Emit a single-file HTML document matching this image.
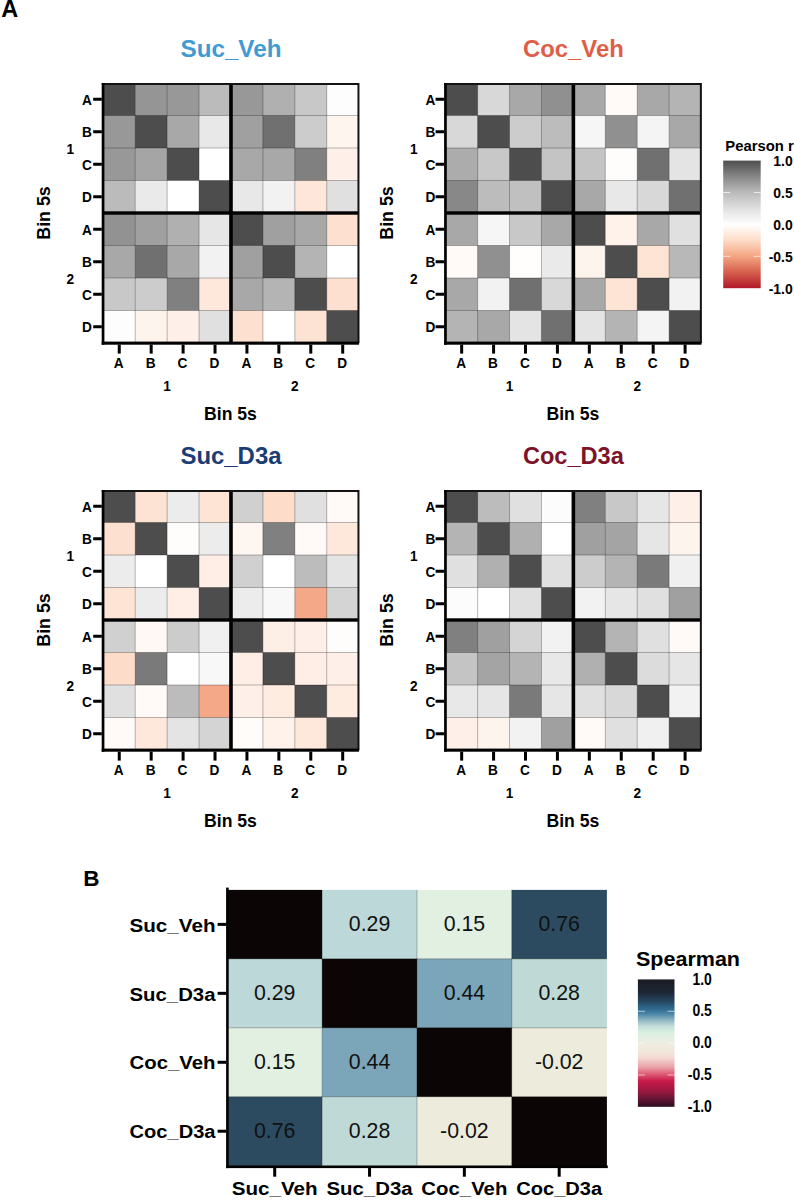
<!DOCTYPE html>
<html><head><meta charset="utf-8"><style>
html,body{margin:0;padding:0;background:#fff;}
body{width:794px;height:1200px;overflow:hidden;}
svg{display:block;font-family:"Liberation Sans", sans-serif;}
</style></head><body>
<svg width="794" height="1200" viewBox="0 0 794 1200">
<rect x="0" y="0" width="794" height="1200" fill="#fff"/>
<text x="1.20" y="16.50" font-size="23.50" font-weight="bold">A</text>
<rect x="103.30" y="83.00" width="32.32" height="32.90" fill="#4d4d4d"/>
<rect x="135.22" y="83.00" width="32.32" height="32.90" fill="#959595"/>
<rect x="167.14" y="83.00" width="32.32" height="32.90" fill="#989898"/>
<rect x="199.06" y="83.00" width="32.32" height="32.90" fill="#bbbbbb"/>
<rect x="230.98" y="83.00" width="32.32" height="32.90" fill="#989898"/>
<rect x="262.90" y="83.00" width="32.32" height="32.90" fill="#b0b0b0"/>
<rect x="294.82" y="83.00" width="32.32" height="32.90" fill="#c8c8c8"/>
<rect x="326.74" y="83.00" width="32.32" height="32.90" fill="#fdfdfd"/>
<rect x="103.30" y="115.50" width="32.32" height="32.90" fill="#989898"/>
<rect x="135.22" y="115.50" width="32.32" height="32.90" fill="#4d4d4d"/>
<rect x="167.14" y="115.50" width="32.32" height="32.90" fill="#a8a8a8"/>
<rect x="199.06" y="115.50" width="32.32" height="32.90" fill="#e8e8e8"/>
<rect x="230.98" y="115.50" width="32.32" height="32.90" fill="#a0a0a0"/>
<rect x="262.90" y="115.50" width="32.32" height="32.90" fill="#707070"/>
<rect x="294.82" y="115.50" width="32.32" height="32.90" fill="#cccccc"/>
<rect x="326.74" y="115.50" width="32.32" height="32.90" fill="#fef5ef"/>
<rect x="103.30" y="148.00" width="32.32" height="32.90" fill="#989898"/>
<rect x="135.22" y="148.00" width="32.32" height="32.90" fill="#a5a5a5"/>
<rect x="167.14" y="148.00" width="32.32" height="32.90" fill="#4d4d4d"/>
<rect x="199.06" y="148.00" width="32.32" height="32.90" fill="#ffffff"/>
<rect x="230.98" y="148.00" width="32.32" height="32.90" fill="#a8a8a8"/>
<rect x="262.90" y="148.00" width="32.32" height="32.90" fill="#a8a8a8"/>
<rect x="294.82" y="148.00" width="32.32" height="32.90" fill="#808080"/>
<rect x="326.74" y="148.00" width="32.32" height="32.90" fill="#fef0e8"/>
<rect x="103.30" y="180.50" width="32.32" height="32.90" fill="#bbbbbb"/>
<rect x="135.22" y="180.50" width="32.32" height="32.90" fill="#eaeaea"/>
<rect x="167.14" y="180.50" width="32.32" height="32.90" fill="#ffffff"/>
<rect x="199.06" y="180.50" width="32.32" height="32.90" fill="#4d4d4d"/>
<rect x="230.98" y="180.50" width="32.32" height="32.90" fill="#e8e8e8"/>
<rect x="262.90" y="180.50" width="32.32" height="32.90" fill="#f2f2f2"/>
<rect x="294.82" y="180.50" width="32.32" height="32.90" fill="#fee6d8"/>
<rect x="326.74" y="180.50" width="32.32" height="32.90" fill="#e0e0e0"/>
<rect x="103.30" y="213.00" width="32.32" height="32.90" fill="#929292"/>
<rect x="135.22" y="213.00" width="32.32" height="32.90" fill="#a0a0a0"/>
<rect x="167.14" y="213.00" width="32.32" height="32.90" fill="#b0b0b0"/>
<rect x="199.06" y="213.00" width="32.32" height="32.90" fill="#e6e6e6"/>
<rect x="230.98" y="213.00" width="32.32" height="32.90" fill="#4d4d4d"/>
<rect x="262.90" y="213.00" width="32.32" height="32.90" fill="#a0a0a0"/>
<rect x="294.82" y="213.00" width="32.32" height="32.90" fill="#a8a8a8"/>
<rect x="326.74" y="213.00" width="32.32" height="32.90" fill="#fde0cf"/>
<rect x="103.30" y="245.50" width="32.32" height="32.90" fill="#a8a8a8"/>
<rect x="135.22" y="245.50" width="32.32" height="32.90" fill="#707070"/>
<rect x="167.14" y="245.50" width="32.32" height="32.90" fill="#a8a8a8"/>
<rect x="199.06" y="245.50" width="32.32" height="32.90" fill="#f2f2f2"/>
<rect x="230.98" y="245.50" width="32.32" height="32.90" fill="#a0a0a0"/>
<rect x="262.90" y="245.50" width="32.32" height="32.90" fill="#4d4d4d"/>
<rect x="294.82" y="245.50" width="32.32" height="32.90" fill="#b4b4b4"/>
<rect x="326.74" y="245.50" width="32.32" height="32.90" fill="#ffffff"/>
<rect x="103.30" y="278.00" width="32.32" height="32.90" fill="#c8c8c8"/>
<rect x="135.22" y="278.00" width="32.32" height="32.90" fill="#cccccc"/>
<rect x="167.14" y="278.00" width="32.32" height="32.90" fill="#808080"/>
<rect x="199.06" y="278.00" width="32.32" height="32.90" fill="#fee8db"/>
<rect x="230.98" y="278.00" width="32.32" height="32.90" fill="#a8a8a8"/>
<rect x="262.90" y="278.00" width="32.32" height="32.90" fill="#b4b4b4"/>
<rect x="294.82" y="278.00" width="32.32" height="32.90" fill="#4d4d4d"/>
<rect x="326.74" y="278.00" width="32.32" height="32.90" fill="#fde0cf"/>
<rect x="103.30" y="310.50" width="32.32" height="32.90" fill="#fdfdfd"/>
<rect x="135.22" y="310.50" width="32.32" height="32.90" fill="#fef4ee"/>
<rect x="167.14" y="310.50" width="32.32" height="32.90" fill="#fef0e8"/>
<rect x="199.06" y="310.50" width="32.32" height="32.90" fill="#e0e0e0"/>
<rect x="230.98" y="310.50" width="32.32" height="32.90" fill="#fde0cf"/>
<rect x="262.90" y="310.50" width="32.32" height="32.90" fill="#ffffff"/>
<rect x="294.82" y="310.50" width="32.32" height="32.90" fill="#fde3d3"/>
<rect x="326.74" y="310.50" width="32.32" height="32.90" fill="#4d4d4d"/>
<line x1="135.22" y1="83.00" x2="135.22" y2="343.00" stroke="#000" stroke-opacity="0.28" stroke-width="1"/>
<line x1="103.30" y1="115.50" x2="358.66" y2="115.50" stroke="#000" stroke-opacity="0.28" stroke-width="1"/>
<line x1="167.14" y1="83.00" x2="167.14" y2="343.00" stroke="#000" stroke-opacity="0.28" stroke-width="1"/>
<line x1="103.30" y1="148.00" x2="358.66" y2="148.00" stroke="#000" stroke-opacity="0.28" stroke-width="1"/>
<line x1="199.06" y1="83.00" x2="199.06" y2="343.00" stroke="#000" stroke-opacity="0.28" stroke-width="1"/>
<line x1="103.30" y1="180.50" x2="358.66" y2="180.50" stroke="#000" stroke-opacity="0.28" stroke-width="1"/>
<line x1="262.90" y1="83.00" x2="262.90" y2="343.00" stroke="#000" stroke-opacity="0.28" stroke-width="1"/>
<line x1="103.30" y1="245.50" x2="358.66" y2="245.50" stroke="#000" stroke-opacity="0.28" stroke-width="1"/>
<line x1="294.82" y1="83.00" x2="294.82" y2="343.00" stroke="#000" stroke-opacity="0.28" stroke-width="1"/>
<line x1="103.30" y1="278.00" x2="358.66" y2="278.00" stroke="#000" stroke-opacity="0.28" stroke-width="1"/>
<line x1="326.74" y1="83.00" x2="326.74" y2="343.00" stroke="#000" stroke-opacity="0.28" stroke-width="1"/>
<line x1="103.30" y1="310.50" x2="358.66" y2="310.50" stroke="#000" stroke-opacity="0.28" stroke-width="1"/>
<rect x="229.18" y="83.00" width="3.6" height="260.00" fill="#000"/>
<rect x="103.30" y="211.30" width="255.36" height="3.4" fill="#000"/>
<rect x="101.80" y="83.00" width="256.86" height="2" fill="#141414"/>
<rect x="357.46" y="83.00" width="2" height="260.00" fill="#141414"/>
<rect x="101.70" y="83.00" width="2.7" height="261.70" fill="#000"/>
<rect x="101.70" y="341.60" width="257.36" height="3.1" fill="#000"/>
<rect x="93.20" y="97.75" width="8.6" height="3" fill="#000"/>
<text transform="translate(91.80,104.85) scale(0.880,1)" font-size="15.50" font-weight="bold" text-anchor="end">A</text>
<rect x="117.76" y="344.60" width="3" height="9" fill="#000"/>
<text transform="translate(118.66,368.40) scale(0.880,1)" font-size="15.50" font-weight="bold" text-anchor="middle">A</text>
<rect x="93.20" y="130.25" width="8.6" height="3" fill="#000"/>
<text transform="translate(91.80,137.35) scale(0.880,1)" font-size="15.50" font-weight="bold" text-anchor="end">B</text>
<rect x="149.68" y="344.60" width="3" height="9" fill="#000"/>
<text transform="translate(150.58,368.40) scale(0.880,1)" font-size="15.50" font-weight="bold" text-anchor="middle">B</text>
<rect x="93.20" y="162.75" width="8.6" height="3" fill="#000"/>
<text transform="translate(91.80,169.85) scale(0.880,1)" font-size="15.50" font-weight="bold" text-anchor="end">C</text>
<rect x="181.60" y="344.60" width="3" height="9" fill="#000"/>
<text transform="translate(182.50,368.40) scale(0.880,1)" font-size="15.50" font-weight="bold" text-anchor="middle">C</text>
<rect x="93.20" y="195.25" width="8.6" height="3" fill="#000"/>
<text transform="translate(91.80,202.35) scale(0.880,1)" font-size="15.50" font-weight="bold" text-anchor="end">D</text>
<rect x="213.52" y="344.60" width="3" height="9" fill="#000"/>
<text transform="translate(214.42,368.40) scale(0.880,1)" font-size="15.50" font-weight="bold" text-anchor="middle">D</text>
<rect x="93.20" y="227.75" width="8.6" height="3" fill="#000"/>
<text transform="translate(91.80,234.85) scale(0.880,1)" font-size="15.50" font-weight="bold" text-anchor="end">A</text>
<rect x="245.44" y="344.60" width="3" height="9" fill="#000"/>
<text transform="translate(246.34,368.40) scale(0.880,1)" font-size="15.50" font-weight="bold" text-anchor="middle">A</text>
<rect x="93.20" y="260.25" width="8.6" height="3" fill="#000"/>
<text transform="translate(91.80,267.35) scale(0.880,1)" font-size="15.50" font-weight="bold" text-anchor="end">B</text>
<rect x="277.36" y="344.60" width="3" height="9" fill="#000"/>
<text transform="translate(278.26,368.40) scale(0.880,1)" font-size="15.50" font-weight="bold" text-anchor="middle">B</text>
<rect x="93.20" y="292.75" width="8.6" height="3" fill="#000"/>
<text transform="translate(91.80,299.85) scale(0.880,1)" font-size="15.50" font-weight="bold" text-anchor="end">C</text>
<rect x="309.28" y="344.60" width="3" height="9" fill="#000"/>
<text transform="translate(310.18,368.40) scale(0.880,1)" font-size="15.50" font-weight="bold" text-anchor="middle">C</text>
<rect x="93.20" y="325.25" width="8.6" height="3" fill="#000"/>
<text transform="translate(91.80,332.35) scale(0.880,1)" font-size="15.50" font-weight="bold" text-anchor="end">D</text>
<rect x="341.20" y="344.60" width="3" height="9" fill="#000"/>
<text transform="translate(342.10,368.40) scale(0.880,1)" font-size="15.50" font-weight="bold" text-anchor="middle">D</text>
<text transform="translate(70.20,153.60) scale(0.880,1)" font-size="15.50" font-weight="bold" text-anchor="middle">1</text>
<text transform="translate(167.14,390.80) scale(0.880,1)" font-size="15.50" font-weight="bold" text-anchor="middle">1</text>
<text transform="translate(70.20,283.60) scale(0.880,1)" font-size="15.50" font-weight="bold" text-anchor="middle">2</text>
<text transform="translate(294.82,390.80) scale(0.880,1)" font-size="15.50" font-weight="bold" text-anchor="middle">2</text>
<text transform="translate(230.48,419.70) scale(0.953,1)" font-size="18.50" font-weight="bold" text-anchor="middle">Bin 5s</text>
<text transform="translate(49.90,213.00) rotate(-90) scale(0.938,1)" font-size="19" font-weight="bold" text-anchor="middle">Bin 5s</text>
<text x="230.98" y="56.70" font-size="24" font-weight="bold" text-anchor="middle" fill="#3f9bd2" textLength="101" lengthAdjust="spacingAndGlyphs">Suc_Veh</text>
<rect x="445.70" y="83.00" width="32.32" height="32.90" fill="#4d4d4d"/>
<rect x="477.62" y="83.00" width="32.32" height="32.90" fill="#d8d8d8"/>
<rect x="509.54" y="83.00" width="32.32" height="32.90" fill="#a8a8a8"/>
<rect x="541.46" y="83.00" width="32.32" height="32.90" fill="#909090"/>
<rect x="573.38" y="83.00" width="32.32" height="32.90" fill="#a8a8a8"/>
<rect x="605.30" y="83.00" width="32.32" height="32.90" fill="#fffaf7"/>
<rect x="637.22" y="83.00" width="32.32" height="32.90" fill="#a8a8a8"/>
<rect x="669.14" y="83.00" width="32.32" height="32.90" fill="#b4b4b4"/>
<rect x="445.70" y="115.50" width="32.32" height="32.90" fill="#d8d8d8"/>
<rect x="477.62" y="115.50" width="32.32" height="32.90" fill="#4d4d4d"/>
<rect x="509.54" y="115.50" width="32.32" height="32.90" fill="#cccccc"/>
<rect x="541.46" y="115.50" width="32.32" height="32.90" fill="#bcbcbc"/>
<rect x="573.38" y="115.50" width="32.32" height="32.90" fill="#f6f6f6"/>
<rect x="605.30" y="115.50" width="32.32" height="32.90" fill="#909090"/>
<rect x="637.22" y="115.50" width="32.32" height="32.90" fill="#f4f4f4"/>
<rect x="669.14" y="115.50" width="32.32" height="32.90" fill="#a8a8a8"/>
<rect x="445.70" y="148.00" width="32.32" height="32.90" fill="#acacac"/>
<rect x="477.62" y="148.00" width="32.32" height="32.90" fill="#c8c8c8"/>
<rect x="509.54" y="148.00" width="32.32" height="32.90" fill="#4d4d4d"/>
<rect x="541.46" y="148.00" width="32.32" height="32.90" fill="#c4c4c4"/>
<rect x="573.38" y="148.00" width="32.32" height="32.90" fill="#c4c4c4"/>
<rect x="605.30" y="148.00" width="32.32" height="32.90" fill="#fffdfc"/>
<rect x="637.22" y="148.00" width="32.32" height="32.90" fill="#707070"/>
<rect x="669.14" y="148.00" width="32.32" height="32.90" fill="#e4e4e4"/>
<rect x="445.70" y="180.50" width="32.32" height="32.90" fill="#888888"/>
<rect x="477.62" y="180.50" width="32.32" height="32.90" fill="#bcbcbc"/>
<rect x="509.54" y="180.50" width="32.32" height="32.90" fill="#c0c0c0"/>
<rect x="541.46" y="180.50" width="32.32" height="32.90" fill="#4d4d4d"/>
<rect x="573.38" y="180.50" width="32.32" height="32.90" fill="#a8a8a8"/>
<rect x="605.30" y="180.50" width="32.32" height="32.90" fill="#e8e8e8"/>
<rect x="637.22" y="180.50" width="32.32" height="32.90" fill="#d8d8d8"/>
<rect x="669.14" y="180.50" width="32.32" height="32.90" fill="#707070"/>
<rect x="445.70" y="213.00" width="32.32" height="32.90" fill="#a8a8a8"/>
<rect x="477.62" y="213.00" width="32.32" height="32.90" fill="#f6f6f6"/>
<rect x="509.54" y="213.00" width="32.32" height="32.90" fill="#c8c8c8"/>
<rect x="541.46" y="213.00" width="32.32" height="32.90" fill="#a8a8a8"/>
<rect x="573.38" y="213.00" width="32.32" height="32.90" fill="#4d4d4d"/>
<rect x="605.30" y="213.00" width="32.32" height="32.90" fill="#fef2eb"/>
<rect x="637.22" y="213.00" width="32.32" height="32.90" fill="#a8a8a8"/>
<rect x="669.14" y="213.00" width="32.32" height="32.90" fill="#e0e0e0"/>
<rect x="445.70" y="245.50" width="32.32" height="32.90" fill="#fffaf7"/>
<rect x="477.62" y="245.50" width="32.32" height="32.90" fill="#909090"/>
<rect x="509.54" y="245.50" width="32.32" height="32.90" fill="#fffefd"/>
<rect x="541.46" y="245.50" width="32.32" height="32.90" fill="#eaeaea"/>
<rect x="573.38" y="245.50" width="32.32" height="32.90" fill="#fef4ee"/>
<rect x="605.30" y="245.50" width="32.32" height="32.90" fill="#4d4d4d"/>
<rect x="637.22" y="245.50" width="32.32" height="32.90" fill="#fee4d5"/>
<rect x="669.14" y="245.50" width="32.32" height="32.90" fill="#b8b8b8"/>
<rect x="445.70" y="278.00" width="32.32" height="32.90" fill="#a8a8a8"/>
<rect x="477.62" y="278.00" width="32.32" height="32.90" fill="#f2f2f2"/>
<rect x="509.54" y="278.00" width="32.32" height="32.90" fill="#707070"/>
<rect x="541.46" y="278.00" width="32.32" height="32.90" fill="#d8d8d8"/>
<rect x="573.38" y="278.00" width="32.32" height="32.90" fill="#a8a8a8"/>
<rect x="605.30" y="278.00" width="32.32" height="32.90" fill="#fee4d5"/>
<rect x="637.22" y="278.00" width="32.32" height="32.90" fill="#4d4d4d"/>
<rect x="669.14" y="278.00" width="32.32" height="32.90" fill="#f2f2f2"/>
<rect x="445.70" y="310.50" width="32.32" height="32.90" fill="#b4b4b4"/>
<rect x="477.62" y="310.50" width="32.32" height="32.90" fill="#a8a8a8"/>
<rect x="509.54" y="310.50" width="32.32" height="32.90" fill="#e4e4e4"/>
<rect x="541.46" y="310.50" width="32.32" height="32.90" fill="#707070"/>
<rect x="573.38" y="310.50" width="32.32" height="32.90" fill="#e4e4e4"/>
<rect x="605.30" y="310.50" width="32.32" height="32.90" fill="#b4b4b4"/>
<rect x="637.22" y="310.50" width="32.32" height="32.90" fill="#f4f4f4"/>
<rect x="669.14" y="310.50" width="32.32" height="32.90" fill="#4d4d4d"/>
<line x1="477.62" y1="83.00" x2="477.62" y2="343.00" stroke="#000" stroke-opacity="0.28" stroke-width="1"/>
<line x1="445.70" y1="115.50" x2="701.06" y2="115.50" stroke="#000" stroke-opacity="0.28" stroke-width="1"/>
<line x1="509.54" y1="83.00" x2="509.54" y2="343.00" stroke="#000" stroke-opacity="0.28" stroke-width="1"/>
<line x1="445.70" y1="148.00" x2="701.06" y2="148.00" stroke="#000" stroke-opacity="0.28" stroke-width="1"/>
<line x1="541.46" y1="83.00" x2="541.46" y2="343.00" stroke="#000" stroke-opacity="0.28" stroke-width="1"/>
<line x1="445.70" y1="180.50" x2="701.06" y2="180.50" stroke="#000" stroke-opacity="0.28" stroke-width="1"/>
<line x1="605.30" y1="83.00" x2="605.30" y2="343.00" stroke="#000" stroke-opacity="0.28" stroke-width="1"/>
<line x1="445.70" y1="245.50" x2="701.06" y2="245.50" stroke="#000" stroke-opacity="0.28" stroke-width="1"/>
<line x1="637.22" y1="83.00" x2="637.22" y2="343.00" stroke="#000" stroke-opacity="0.28" stroke-width="1"/>
<line x1="445.70" y1="278.00" x2="701.06" y2="278.00" stroke="#000" stroke-opacity="0.28" stroke-width="1"/>
<line x1="669.14" y1="83.00" x2="669.14" y2="343.00" stroke="#000" stroke-opacity="0.28" stroke-width="1"/>
<line x1="445.70" y1="310.50" x2="701.06" y2="310.50" stroke="#000" stroke-opacity="0.28" stroke-width="1"/>
<rect x="571.58" y="83.00" width="3.6" height="260.00" fill="#000"/>
<rect x="445.70" y="211.30" width="255.36" height="3.4" fill="#000"/>
<rect x="444.20" y="83.00" width="256.86" height="2" fill="#141414"/>
<rect x="699.86" y="83.00" width="2" height="260.00" fill="#141414"/>
<rect x="444.10" y="83.00" width="2.7" height="261.70" fill="#000"/>
<rect x="444.10" y="341.60" width="257.36" height="3.1" fill="#000"/>
<rect x="435.60" y="97.75" width="8.6" height="3" fill="#000"/>
<text transform="translate(435.40,104.85) scale(0.880,1)" font-size="15.50" font-weight="bold" text-anchor="end">A</text>
<rect x="460.16" y="344.60" width="3" height="9" fill="#000"/>
<text transform="translate(461.06,368.40) scale(0.880,1)" font-size="15.50" font-weight="bold" text-anchor="middle">A</text>
<rect x="435.60" y="130.25" width="8.6" height="3" fill="#000"/>
<text transform="translate(435.40,137.35) scale(0.880,1)" font-size="15.50" font-weight="bold" text-anchor="end">B</text>
<rect x="492.08" y="344.60" width="3" height="9" fill="#000"/>
<text transform="translate(492.98,368.40) scale(0.880,1)" font-size="15.50" font-weight="bold" text-anchor="middle">B</text>
<rect x="435.60" y="162.75" width="8.6" height="3" fill="#000"/>
<text transform="translate(435.40,169.85) scale(0.880,1)" font-size="15.50" font-weight="bold" text-anchor="end">C</text>
<rect x="524.00" y="344.60" width="3" height="9" fill="#000"/>
<text transform="translate(524.90,368.40) scale(0.880,1)" font-size="15.50" font-weight="bold" text-anchor="middle">C</text>
<rect x="435.60" y="195.25" width="8.6" height="3" fill="#000"/>
<text transform="translate(435.40,202.35) scale(0.880,1)" font-size="15.50" font-weight="bold" text-anchor="end">D</text>
<rect x="555.92" y="344.60" width="3" height="9" fill="#000"/>
<text transform="translate(556.82,368.40) scale(0.880,1)" font-size="15.50" font-weight="bold" text-anchor="middle">D</text>
<rect x="435.60" y="227.75" width="8.6" height="3" fill="#000"/>
<text transform="translate(435.40,234.85) scale(0.880,1)" font-size="15.50" font-weight="bold" text-anchor="end">A</text>
<rect x="587.84" y="344.60" width="3" height="9" fill="#000"/>
<text transform="translate(588.74,368.40) scale(0.880,1)" font-size="15.50" font-weight="bold" text-anchor="middle">A</text>
<rect x="435.60" y="260.25" width="8.6" height="3" fill="#000"/>
<text transform="translate(435.40,267.35) scale(0.880,1)" font-size="15.50" font-weight="bold" text-anchor="end">B</text>
<rect x="619.76" y="344.60" width="3" height="9" fill="#000"/>
<text transform="translate(620.66,368.40) scale(0.880,1)" font-size="15.50" font-weight="bold" text-anchor="middle">B</text>
<rect x="435.60" y="292.75" width="8.6" height="3" fill="#000"/>
<text transform="translate(435.40,299.85) scale(0.880,1)" font-size="15.50" font-weight="bold" text-anchor="end">C</text>
<rect x="651.68" y="344.60" width="3" height="9" fill="#000"/>
<text transform="translate(652.58,368.40) scale(0.880,1)" font-size="15.50" font-weight="bold" text-anchor="middle">C</text>
<rect x="435.60" y="325.25" width="8.6" height="3" fill="#000"/>
<text transform="translate(435.40,332.35) scale(0.880,1)" font-size="15.50" font-weight="bold" text-anchor="end">D</text>
<rect x="683.60" y="344.60" width="3" height="9" fill="#000"/>
<text transform="translate(684.50,368.40) scale(0.880,1)" font-size="15.50" font-weight="bold" text-anchor="middle">D</text>
<text transform="translate(413.80,153.60) scale(0.880,1)" font-size="15.50" font-weight="bold" text-anchor="middle">1</text>
<text transform="translate(509.54,390.80) scale(0.880,1)" font-size="15.50" font-weight="bold" text-anchor="middle">1</text>
<text transform="translate(413.80,283.60) scale(0.880,1)" font-size="15.50" font-weight="bold" text-anchor="middle">2</text>
<text transform="translate(637.22,390.80) scale(0.880,1)" font-size="15.50" font-weight="bold" text-anchor="middle">2</text>
<text transform="translate(572.88,419.70) scale(0.953,1)" font-size="18.50" font-weight="bold" text-anchor="middle">Bin 5s</text>
<text transform="translate(392.78,213.00) rotate(-90) scale(0.938,1)" font-size="19" font-weight="bold" text-anchor="middle">Bin 5s</text>
<text x="573.38" y="56.70" font-size="24" font-weight="bold" text-anchor="middle" fill="#df5e47" textLength="101" lengthAdjust="spacingAndGlyphs">Coc_Veh</text>
<rect x="103.30" y="490.00" width="32.32" height="32.90" fill="#4d4d4d"/>
<rect x="135.22" y="490.00" width="32.32" height="32.90" fill="#fde3d3"/>
<rect x="167.14" y="490.00" width="32.32" height="32.90" fill="#ececec"/>
<rect x="199.06" y="490.00" width="32.32" height="32.90" fill="#fee4d5"/>
<rect x="230.98" y="490.00" width="32.32" height="32.90" fill="#d0d0d0"/>
<rect x="262.90" y="490.00" width="32.32" height="32.90" fill="#fddcc9"/>
<rect x="294.82" y="490.00" width="32.32" height="32.90" fill="#e0e0e0"/>
<rect x="326.74" y="490.00" width="32.32" height="32.90" fill="#fffaf7"/>
<rect x="103.30" y="522.50" width="32.32" height="32.90" fill="#fde0cf"/>
<rect x="135.22" y="522.50" width="32.32" height="32.90" fill="#4d4d4d"/>
<rect x="167.14" y="522.50" width="32.32" height="32.90" fill="#fffdfc"/>
<rect x="199.06" y="522.50" width="32.32" height="32.90" fill="#ececec"/>
<rect x="230.98" y="522.50" width="32.32" height="32.90" fill="#fef6f1"/>
<rect x="262.90" y="522.50" width="32.32" height="32.90" fill="#808080"/>
<rect x="294.82" y="522.50" width="32.32" height="32.90" fill="#fffaf7"/>
<rect x="326.74" y="522.50" width="32.32" height="32.90" fill="#fee8db"/>
<rect x="103.30" y="555.00" width="32.32" height="32.90" fill="#ececec"/>
<rect x="135.22" y="555.00" width="32.32" height="32.90" fill="#ffffff"/>
<rect x="167.14" y="555.00" width="32.32" height="32.90" fill="#4d4d4d"/>
<rect x="199.06" y="555.00" width="32.32" height="32.90" fill="#feeee5"/>
<rect x="230.98" y="555.00" width="32.32" height="32.90" fill="#d0d0d0"/>
<rect x="262.90" y="555.00" width="32.32" height="32.90" fill="#ffffff"/>
<rect x="294.82" y="555.00" width="32.32" height="32.90" fill="#bcbcbc"/>
<rect x="326.74" y="555.00" width="32.32" height="32.90" fill="#e4e4e4"/>
<rect x="103.30" y="587.50" width="32.32" height="32.90" fill="#fee4d5"/>
<rect x="135.22" y="587.50" width="32.32" height="32.90" fill="#ececec"/>
<rect x="167.14" y="587.50" width="32.32" height="32.90" fill="#feeee5"/>
<rect x="199.06" y="587.50" width="32.32" height="32.90" fill="#4d4d4d"/>
<rect x="230.98" y="587.50" width="32.32" height="32.90" fill="#ececec"/>
<rect x="262.90" y="587.50" width="32.32" height="32.90" fill="#f8f8f8"/>
<rect x="294.82" y="587.50" width="32.32" height="32.90" fill="#f5a888"/>
<rect x="326.74" y="587.50" width="32.32" height="32.90" fill="#d4d4d4"/>
<rect x="103.30" y="620.00" width="32.32" height="32.90" fill="#d0d0d0"/>
<rect x="135.22" y="620.00" width="32.32" height="32.90" fill="#fff8f4"/>
<rect x="167.14" y="620.00" width="32.32" height="32.90" fill="#cccccc"/>
<rect x="199.06" y="620.00" width="32.32" height="32.90" fill="#f0f0f0"/>
<rect x="230.98" y="620.00" width="32.32" height="32.90" fill="#4d4d4d"/>
<rect x="262.90" y="620.00" width="32.32" height="32.90" fill="#feefe6"/>
<rect x="294.82" y="620.00" width="32.32" height="32.90" fill="#fef0e8"/>
<rect x="326.74" y="620.00" width="32.32" height="32.90" fill="#fffdfc"/>
<rect x="103.30" y="652.50" width="32.32" height="32.90" fill="#fddcc9"/>
<rect x="135.22" y="652.50" width="32.32" height="32.90" fill="#7a7a7a"/>
<rect x="167.14" y="652.50" width="32.32" height="32.90" fill="#ffffff"/>
<rect x="199.06" y="652.50" width="32.32" height="32.90" fill="#f8f8f8"/>
<rect x="230.98" y="652.50" width="32.32" height="32.90" fill="#feeee5"/>
<rect x="262.90" y="652.50" width="32.32" height="32.90" fill="#4d4d4d"/>
<rect x="294.82" y="652.50" width="32.32" height="32.90" fill="#feeee5"/>
<rect x="326.74" y="652.50" width="32.32" height="32.90" fill="#fef0e8"/>
<rect x="103.30" y="685.00" width="32.32" height="32.90" fill="#e0e0e0"/>
<rect x="135.22" y="685.00" width="32.32" height="32.90" fill="#fffaf7"/>
<rect x="167.14" y="685.00" width="32.32" height="32.90" fill="#bcbcbc"/>
<rect x="199.06" y="685.00" width="32.32" height="32.90" fill="#f5a888"/>
<rect x="230.98" y="685.00" width="32.32" height="32.90" fill="#fef0e8"/>
<rect x="262.90" y="685.00" width="32.32" height="32.90" fill="#feece1"/>
<rect x="294.82" y="685.00" width="32.32" height="32.90" fill="#4d4d4d"/>
<rect x="326.74" y="685.00" width="32.32" height="32.90" fill="#feece1"/>
<rect x="103.30" y="717.50" width="32.32" height="32.90" fill="#fffaf7"/>
<rect x="135.22" y="717.50" width="32.32" height="32.90" fill="#fee8db"/>
<rect x="167.14" y="717.50" width="32.32" height="32.90" fill="#e4e4e4"/>
<rect x="199.06" y="717.50" width="32.32" height="32.90" fill="#d4d4d4"/>
<rect x="230.98" y="717.50" width="32.32" height="32.90" fill="#fffcfa"/>
<rect x="262.90" y="717.50" width="32.32" height="32.90" fill="#fef2eb"/>
<rect x="294.82" y="717.50" width="32.32" height="32.90" fill="#fee8db"/>
<rect x="326.74" y="717.50" width="32.32" height="32.90" fill="#4d4d4d"/>
<line x1="135.22" y1="490.00" x2="135.22" y2="750.00" stroke="#000" stroke-opacity="0.28" stroke-width="1"/>
<line x1="103.30" y1="522.50" x2="358.66" y2="522.50" stroke="#000" stroke-opacity="0.28" stroke-width="1"/>
<line x1="167.14" y1="490.00" x2="167.14" y2="750.00" stroke="#000" stroke-opacity="0.28" stroke-width="1"/>
<line x1="103.30" y1="555.00" x2="358.66" y2="555.00" stroke="#000" stroke-opacity="0.28" stroke-width="1"/>
<line x1="199.06" y1="490.00" x2="199.06" y2="750.00" stroke="#000" stroke-opacity="0.28" stroke-width="1"/>
<line x1="103.30" y1="587.50" x2="358.66" y2="587.50" stroke="#000" stroke-opacity="0.28" stroke-width="1"/>
<line x1="262.90" y1="490.00" x2="262.90" y2="750.00" stroke="#000" stroke-opacity="0.28" stroke-width="1"/>
<line x1="103.30" y1="652.50" x2="358.66" y2="652.50" stroke="#000" stroke-opacity="0.28" stroke-width="1"/>
<line x1="294.82" y1="490.00" x2="294.82" y2="750.00" stroke="#000" stroke-opacity="0.28" stroke-width="1"/>
<line x1="103.30" y1="685.00" x2="358.66" y2="685.00" stroke="#000" stroke-opacity="0.28" stroke-width="1"/>
<line x1="326.74" y1="490.00" x2="326.74" y2="750.00" stroke="#000" stroke-opacity="0.28" stroke-width="1"/>
<line x1="103.30" y1="717.50" x2="358.66" y2="717.50" stroke="#000" stroke-opacity="0.28" stroke-width="1"/>
<rect x="229.18" y="490.00" width="3.6" height="260.00" fill="#000"/>
<rect x="103.30" y="618.30" width="255.36" height="3.4" fill="#000"/>
<rect x="101.80" y="490.00" width="256.86" height="2" fill="#141414"/>
<rect x="357.46" y="490.00" width="2" height="260.00" fill="#141414"/>
<rect x="101.70" y="490.00" width="2.7" height="261.70" fill="#000"/>
<rect x="101.70" y="748.60" width="257.36" height="3.1" fill="#000"/>
<rect x="93.20" y="504.75" width="8.6" height="3" fill="#000"/>
<text transform="translate(91.80,511.85) scale(0.880,1)" font-size="15.50" font-weight="bold" text-anchor="end">A</text>
<rect x="117.76" y="751.60" width="3" height="9" fill="#000"/>
<text transform="translate(118.66,775.40) scale(0.880,1)" font-size="15.50" font-weight="bold" text-anchor="middle">A</text>
<rect x="93.20" y="537.25" width="8.6" height="3" fill="#000"/>
<text transform="translate(91.80,544.35) scale(0.880,1)" font-size="15.50" font-weight="bold" text-anchor="end">B</text>
<rect x="149.68" y="751.60" width="3" height="9" fill="#000"/>
<text transform="translate(150.58,775.40) scale(0.880,1)" font-size="15.50" font-weight="bold" text-anchor="middle">B</text>
<rect x="93.20" y="569.75" width="8.6" height="3" fill="#000"/>
<text transform="translate(91.80,576.85) scale(0.880,1)" font-size="15.50" font-weight="bold" text-anchor="end">C</text>
<rect x="181.60" y="751.60" width="3" height="9" fill="#000"/>
<text transform="translate(182.50,775.40) scale(0.880,1)" font-size="15.50" font-weight="bold" text-anchor="middle">C</text>
<rect x="93.20" y="602.25" width="8.6" height="3" fill="#000"/>
<text transform="translate(91.80,609.35) scale(0.880,1)" font-size="15.50" font-weight="bold" text-anchor="end">D</text>
<rect x="213.52" y="751.60" width="3" height="9" fill="#000"/>
<text transform="translate(214.42,775.40) scale(0.880,1)" font-size="15.50" font-weight="bold" text-anchor="middle">D</text>
<rect x="93.20" y="634.75" width="8.6" height="3" fill="#000"/>
<text transform="translate(91.80,641.85) scale(0.880,1)" font-size="15.50" font-weight="bold" text-anchor="end">A</text>
<rect x="245.44" y="751.60" width="3" height="9" fill="#000"/>
<text transform="translate(246.34,775.40) scale(0.880,1)" font-size="15.50" font-weight="bold" text-anchor="middle">A</text>
<rect x="93.20" y="667.25" width="8.6" height="3" fill="#000"/>
<text transform="translate(91.80,674.35) scale(0.880,1)" font-size="15.50" font-weight="bold" text-anchor="end">B</text>
<rect x="277.36" y="751.60" width="3" height="9" fill="#000"/>
<text transform="translate(278.26,775.40) scale(0.880,1)" font-size="15.50" font-weight="bold" text-anchor="middle">B</text>
<rect x="93.20" y="699.75" width="8.6" height="3" fill="#000"/>
<text transform="translate(91.80,706.85) scale(0.880,1)" font-size="15.50" font-weight="bold" text-anchor="end">C</text>
<rect x="309.28" y="751.60" width="3" height="9" fill="#000"/>
<text transform="translate(310.18,775.40) scale(0.880,1)" font-size="15.50" font-weight="bold" text-anchor="middle">C</text>
<rect x="93.20" y="732.25" width="8.6" height="3" fill="#000"/>
<text transform="translate(91.80,739.35) scale(0.880,1)" font-size="15.50" font-weight="bold" text-anchor="end">D</text>
<rect x="341.20" y="751.60" width="3" height="9" fill="#000"/>
<text transform="translate(342.10,775.40) scale(0.880,1)" font-size="15.50" font-weight="bold" text-anchor="middle">D</text>
<text transform="translate(70.20,560.60) scale(0.880,1)" font-size="15.50" font-weight="bold" text-anchor="middle">1</text>
<text transform="translate(167.14,797.80) scale(0.880,1)" font-size="15.50" font-weight="bold" text-anchor="middle">1</text>
<text transform="translate(70.20,690.60) scale(0.880,1)" font-size="15.50" font-weight="bold" text-anchor="middle">2</text>
<text transform="translate(294.82,797.80) scale(0.880,1)" font-size="15.50" font-weight="bold" text-anchor="middle">2</text>
<text transform="translate(230.48,826.70) scale(0.953,1)" font-size="18.50" font-weight="bold" text-anchor="middle">Bin 5s</text>
<text transform="translate(49.90,620.00) rotate(-90) scale(0.938,1)" font-size="19" font-weight="bold" text-anchor="middle">Bin 5s</text>
<text x="230.98" y="463.70" font-size="24" font-weight="bold" text-anchor="middle" fill="#1b3c74" textLength="101" lengthAdjust="spacingAndGlyphs">Suc_D3a</text>
<rect x="445.70" y="490.00" width="32.32" height="32.90" fill="#4d4d4d"/>
<rect x="477.62" y="490.00" width="32.32" height="32.90" fill="#bcbcbc"/>
<rect x="509.54" y="490.00" width="32.32" height="32.90" fill="#e0e0e0"/>
<rect x="541.46" y="490.00" width="32.32" height="32.90" fill="#fcfcfc"/>
<rect x="573.38" y="490.00" width="32.32" height="32.90" fill="#808080"/>
<rect x="605.30" y="490.00" width="32.32" height="32.90" fill="#c8c8c8"/>
<rect x="637.22" y="490.00" width="32.32" height="32.90" fill="#e6e6e6"/>
<rect x="669.14" y="490.00" width="32.32" height="32.90" fill="#fef0e8"/>
<rect x="445.70" y="522.50" width="32.32" height="32.90" fill="#b4b4b4"/>
<rect x="477.62" y="522.50" width="32.32" height="32.90" fill="#4d4d4d"/>
<rect x="509.54" y="522.50" width="32.32" height="32.90" fill="#b0b0b0"/>
<rect x="541.46" y="522.50" width="32.32" height="32.90" fill="#ffffff"/>
<rect x="573.38" y="522.50" width="32.32" height="32.90" fill="#a0a0a0"/>
<rect x="605.30" y="522.50" width="32.32" height="32.90" fill="#a4a4a4"/>
<rect x="637.22" y="522.50" width="32.32" height="32.90" fill="#e6e6e6"/>
<rect x="669.14" y="522.50" width="32.32" height="32.90" fill="#fef4ee"/>
<rect x="445.70" y="555.00" width="32.32" height="32.90" fill="#e0e0e0"/>
<rect x="477.62" y="555.00" width="32.32" height="32.90" fill="#b0b0b0"/>
<rect x="509.54" y="555.00" width="32.32" height="32.90" fill="#4d4d4d"/>
<rect x="541.46" y="555.00" width="32.32" height="32.90" fill="#e0e0e0"/>
<rect x="573.38" y="555.00" width="32.32" height="32.90" fill="#cccccc"/>
<rect x="605.30" y="555.00" width="32.32" height="32.90" fill="#b4b4b4"/>
<rect x="637.22" y="555.00" width="32.32" height="32.90" fill="#7a7a7a"/>
<rect x="669.14" y="555.00" width="32.32" height="32.90" fill="#f0f0f0"/>
<rect x="445.70" y="587.50" width="32.32" height="32.90" fill="#fcfcfc"/>
<rect x="477.62" y="587.50" width="32.32" height="32.90" fill="#ffffff"/>
<rect x="509.54" y="587.50" width="32.32" height="32.90" fill="#e0e0e0"/>
<rect x="541.46" y="587.50" width="32.32" height="32.90" fill="#4d4d4d"/>
<rect x="573.38" y="587.50" width="32.32" height="32.90" fill="#f2f2f2"/>
<rect x="605.30" y="587.50" width="32.32" height="32.90" fill="#e6e6e6"/>
<rect x="637.22" y="587.50" width="32.32" height="32.90" fill="#e0e0e0"/>
<rect x="669.14" y="587.50" width="32.32" height="32.90" fill="#a0a0a0"/>
<rect x="445.70" y="620.00" width="32.32" height="32.90" fill="#808080"/>
<rect x="477.62" y="620.00" width="32.32" height="32.90" fill="#a0a0a0"/>
<rect x="509.54" y="620.00" width="32.32" height="32.90" fill="#d4d4d4"/>
<rect x="541.46" y="620.00" width="32.32" height="32.90" fill="#f2f2f2"/>
<rect x="573.38" y="620.00" width="32.32" height="32.90" fill="#4d4d4d"/>
<rect x="605.30" y="620.00" width="32.32" height="32.90" fill="#b4b4b4"/>
<rect x="637.22" y="620.00" width="32.32" height="32.90" fill="#e0e0e0"/>
<rect x="669.14" y="620.00" width="32.32" height="32.90" fill="#fffaf7"/>
<rect x="445.70" y="652.50" width="32.32" height="32.90" fill="#c4c4c4"/>
<rect x="477.62" y="652.50" width="32.32" height="32.90" fill="#a4a4a4"/>
<rect x="509.54" y="652.50" width="32.32" height="32.90" fill="#b4b4b4"/>
<rect x="541.46" y="652.50" width="32.32" height="32.90" fill="#e8e8e8"/>
<rect x="573.38" y="652.50" width="32.32" height="32.90" fill="#b0b0b0"/>
<rect x="605.30" y="652.50" width="32.32" height="32.90" fill="#4d4d4d"/>
<rect x="637.22" y="652.50" width="32.32" height="32.90" fill="#dcdcdc"/>
<rect x="669.14" y="652.50" width="32.32" height="32.90" fill="#e6e6e6"/>
<rect x="445.70" y="685.00" width="32.32" height="32.90" fill="#e8e8e8"/>
<rect x="477.62" y="685.00" width="32.32" height="32.90" fill="#e6e6e6"/>
<rect x="509.54" y="685.00" width="32.32" height="32.90" fill="#7a7a7a"/>
<rect x="541.46" y="685.00" width="32.32" height="32.90" fill="#e6e6e6"/>
<rect x="573.38" y="685.00" width="32.32" height="32.90" fill="#e0e0e0"/>
<rect x="605.30" y="685.00" width="32.32" height="32.90" fill="#d8d8d8"/>
<rect x="637.22" y="685.00" width="32.32" height="32.90" fill="#4d4d4d"/>
<rect x="669.14" y="685.00" width="32.32" height="32.90" fill="#f2f2f2"/>
<rect x="445.70" y="717.50" width="32.32" height="32.90" fill="#fef0e8"/>
<rect x="477.62" y="717.50" width="32.32" height="32.90" fill="#fef4ee"/>
<rect x="509.54" y="717.50" width="32.32" height="32.90" fill="#f2f2f2"/>
<rect x="541.46" y="717.50" width="32.32" height="32.90" fill="#a0a0a0"/>
<rect x="573.38" y="717.50" width="32.32" height="32.90" fill="#fffaf7"/>
<rect x="605.30" y="717.50" width="32.32" height="32.90" fill="#e0e0e0"/>
<rect x="637.22" y="717.50" width="32.32" height="32.90" fill="#f0f0f0"/>
<rect x="669.14" y="717.50" width="32.32" height="32.90" fill="#4d4d4d"/>
<line x1="477.62" y1="490.00" x2="477.62" y2="750.00" stroke="#000" stroke-opacity="0.28" stroke-width="1"/>
<line x1="445.70" y1="522.50" x2="701.06" y2="522.50" stroke="#000" stroke-opacity="0.28" stroke-width="1"/>
<line x1="509.54" y1="490.00" x2="509.54" y2="750.00" stroke="#000" stroke-opacity="0.28" stroke-width="1"/>
<line x1="445.70" y1="555.00" x2="701.06" y2="555.00" stroke="#000" stroke-opacity="0.28" stroke-width="1"/>
<line x1="541.46" y1="490.00" x2="541.46" y2="750.00" stroke="#000" stroke-opacity="0.28" stroke-width="1"/>
<line x1="445.70" y1="587.50" x2="701.06" y2="587.50" stroke="#000" stroke-opacity="0.28" stroke-width="1"/>
<line x1="605.30" y1="490.00" x2="605.30" y2="750.00" stroke="#000" stroke-opacity="0.28" stroke-width="1"/>
<line x1="445.70" y1="652.50" x2="701.06" y2="652.50" stroke="#000" stroke-opacity="0.28" stroke-width="1"/>
<line x1="637.22" y1="490.00" x2="637.22" y2="750.00" stroke="#000" stroke-opacity="0.28" stroke-width="1"/>
<line x1="445.70" y1="685.00" x2="701.06" y2="685.00" stroke="#000" stroke-opacity="0.28" stroke-width="1"/>
<line x1="669.14" y1="490.00" x2="669.14" y2="750.00" stroke="#000" stroke-opacity="0.28" stroke-width="1"/>
<line x1="445.70" y1="717.50" x2="701.06" y2="717.50" stroke="#000" stroke-opacity="0.28" stroke-width="1"/>
<rect x="571.58" y="490.00" width="3.6" height="260.00" fill="#000"/>
<rect x="445.70" y="618.30" width="255.36" height="3.4" fill="#000"/>
<rect x="444.20" y="490.00" width="256.86" height="2" fill="#141414"/>
<rect x="699.86" y="490.00" width="2" height="260.00" fill="#141414"/>
<rect x="444.10" y="490.00" width="2.7" height="261.70" fill="#000"/>
<rect x="444.10" y="748.60" width="257.36" height="3.1" fill="#000"/>
<rect x="435.60" y="504.75" width="8.6" height="3" fill="#000"/>
<text transform="translate(435.40,511.85) scale(0.880,1)" font-size="15.50" font-weight="bold" text-anchor="end">A</text>
<rect x="460.16" y="751.60" width="3" height="9" fill="#000"/>
<text transform="translate(461.06,775.40) scale(0.880,1)" font-size="15.50" font-weight="bold" text-anchor="middle">A</text>
<rect x="435.60" y="537.25" width="8.6" height="3" fill="#000"/>
<text transform="translate(435.40,544.35) scale(0.880,1)" font-size="15.50" font-weight="bold" text-anchor="end">B</text>
<rect x="492.08" y="751.60" width="3" height="9" fill="#000"/>
<text transform="translate(492.98,775.40) scale(0.880,1)" font-size="15.50" font-weight="bold" text-anchor="middle">B</text>
<rect x="435.60" y="569.75" width="8.6" height="3" fill="#000"/>
<text transform="translate(435.40,576.85) scale(0.880,1)" font-size="15.50" font-weight="bold" text-anchor="end">C</text>
<rect x="524.00" y="751.60" width="3" height="9" fill="#000"/>
<text transform="translate(524.90,775.40) scale(0.880,1)" font-size="15.50" font-weight="bold" text-anchor="middle">C</text>
<rect x="435.60" y="602.25" width="8.6" height="3" fill="#000"/>
<text transform="translate(435.40,609.35) scale(0.880,1)" font-size="15.50" font-weight="bold" text-anchor="end">D</text>
<rect x="555.92" y="751.60" width="3" height="9" fill="#000"/>
<text transform="translate(556.82,775.40) scale(0.880,1)" font-size="15.50" font-weight="bold" text-anchor="middle">D</text>
<rect x="435.60" y="634.75" width="8.6" height="3" fill="#000"/>
<text transform="translate(435.40,641.85) scale(0.880,1)" font-size="15.50" font-weight="bold" text-anchor="end">A</text>
<rect x="587.84" y="751.60" width="3" height="9" fill="#000"/>
<text transform="translate(588.74,775.40) scale(0.880,1)" font-size="15.50" font-weight="bold" text-anchor="middle">A</text>
<rect x="435.60" y="667.25" width="8.6" height="3" fill="#000"/>
<text transform="translate(435.40,674.35) scale(0.880,1)" font-size="15.50" font-weight="bold" text-anchor="end">B</text>
<rect x="619.76" y="751.60" width="3" height="9" fill="#000"/>
<text transform="translate(620.66,775.40) scale(0.880,1)" font-size="15.50" font-weight="bold" text-anchor="middle">B</text>
<rect x="435.60" y="699.75" width="8.6" height="3" fill="#000"/>
<text transform="translate(435.40,706.85) scale(0.880,1)" font-size="15.50" font-weight="bold" text-anchor="end">C</text>
<rect x="651.68" y="751.60" width="3" height="9" fill="#000"/>
<text transform="translate(652.58,775.40) scale(0.880,1)" font-size="15.50" font-weight="bold" text-anchor="middle">C</text>
<rect x="435.60" y="732.25" width="8.6" height="3" fill="#000"/>
<text transform="translate(435.40,739.35) scale(0.880,1)" font-size="15.50" font-weight="bold" text-anchor="end">D</text>
<rect x="683.60" y="751.60" width="3" height="9" fill="#000"/>
<text transform="translate(684.50,775.40) scale(0.880,1)" font-size="15.50" font-weight="bold" text-anchor="middle">D</text>
<text transform="translate(413.80,560.60) scale(0.880,1)" font-size="15.50" font-weight="bold" text-anchor="middle">1</text>
<text transform="translate(509.54,797.80) scale(0.880,1)" font-size="15.50" font-weight="bold" text-anchor="middle">1</text>
<text transform="translate(413.80,690.60) scale(0.880,1)" font-size="15.50" font-weight="bold" text-anchor="middle">2</text>
<text transform="translate(637.22,797.80) scale(0.880,1)" font-size="15.50" font-weight="bold" text-anchor="middle">2</text>
<text transform="translate(572.88,826.70) scale(0.953,1)" font-size="18.50" font-weight="bold" text-anchor="middle">Bin 5s</text>
<text transform="translate(392.78,620.00) rotate(-90) scale(0.938,1)" font-size="19" font-weight="bold" text-anchor="middle">Bin 5s</text>
<text x="573.38" y="463.70" font-size="24" font-weight="bold" text-anchor="middle" fill="#7b1329" textLength="101" lengthAdjust="spacingAndGlyphs">Coc_D3a</text>
<defs><linearGradient id="rdgy" x1="0" y1="0" x2="0" y2="1"><stop offset="0" stop-color="#4d4d4d"/><stop offset="0.125" stop-color="#878787"/><stop offset="0.25" stop-color="#bababa"/><stop offset="0.375" stop-color="#e0e0e0"/><stop offset="0.5" stop-color="#ffffff"/><stop offset="0.625" stop-color="#fddbc7"/><stop offset="0.75" stop-color="#f4a582"/><stop offset="0.875" stop-color="#d6604d"/><stop offset="1" stop-color="#b2182b"/></linearGradient><linearGradient id="spear" x1="0" y1="0" x2="0" y2="1"><stop offset="0" stop-color="#191b22"/><stop offset="0.1" stop-color="#1e2634"/><stop offset="0.17" stop-color="#25465f"/><stop offset="0.23" stop-color="#2f6a8e"/><stop offset="0.27" stop-color="#4a85a6"/><stop offset="0.32" stop-color="#8fb6c2"/><stop offset="0.37" stop-color="#c6dfdb"/><stop offset="0.42" stop-color="#dcefe1"/><stop offset="0.47" stop-color="#e6efe2"/><stop offset="0.5" stop-color="#eeece0"/><stop offset="0.57" stop-color="#f1e7db"/><stop offset="0.62" stop-color="#f3d6cf"/><stop offset="0.69" stop-color="#eaa0a9"/><stop offset="0.745" stop-color="#dc5a72"/><stop offset="0.8" stop-color="#c8184a"/><stop offset="0.88" stop-color="#98183e"/><stop offset="0.95" stop-color="#5a1432"/><stop offset="1" stop-color="#2a0c20"/></linearGradient></defs>
<text transform="translate(725.30,150.50) scale(1.024,1)" font-size="14.50" font-weight="bold">Pearson r</text>
<rect x="723.20" y="160.60" width="37.50" height="127.60" fill="url(#rdgy)"/>
<text transform="translate(773.30,166.20) scale(0.900,1)" font-size="15.50" font-weight="bold">1.0</text>
<rect x="723.20" y="192.00" width="7" height="1" fill="#fff" fill-opacity="0.7"/>
<rect x="753.70" y="192.00" width="7" height="1" fill="#fff" fill-opacity="0.7"/>
<text transform="translate(773.30,198.10) scale(0.900,1)" font-size="15.50" font-weight="bold">0.5</text>
<rect x="723.20" y="223.90" width="7" height="1" fill="#fff" fill-opacity="0.7"/>
<rect x="753.70" y="223.90" width="7" height="1" fill="#fff" fill-opacity="0.7"/>
<text transform="translate(773.30,230.00) scale(0.900,1)" font-size="15.50" font-weight="bold">0.0</text>
<rect x="723.20" y="255.80" width="7" height="1" fill="#fff" fill-opacity="0.7"/>
<rect x="753.70" y="255.80" width="7" height="1" fill="#fff" fill-opacity="0.7"/>
<text transform="translate(768.70,261.90) scale(0.900,1)" font-size="15.50" font-weight="bold">-0.5</text>
<text transform="translate(768.70,293.80) scale(0.900,1)" font-size="15.50" font-weight="bold">-1.0</text>
<text x="83.20" y="886.20" font-size="22.50" font-weight="bold">B</text>
<rect x="227.30" y="889.90" width="95.12" height="69.25" fill="#0b0506"/>
<rect x="322.12" y="889.90" width="95.12" height="69.25" fill="#bcd8d8"/>
<rect x="416.95" y="889.90" width="95.12" height="69.25" fill="#e2f0e2"/>
<rect x="511.78" y="889.90" width="95.12" height="69.25" fill="#2c4b60"/>
<rect x="227.30" y="958.85" width="95.12" height="69.25" fill="#bcd8d8"/>
<rect x="322.12" y="958.85" width="95.12" height="69.25" fill="#0b0506"/>
<rect x="416.95" y="958.85" width="95.12" height="69.25" fill="#7ba5b9"/>
<rect x="511.78" y="958.85" width="95.12" height="69.25" fill="#bfdad6"/>
<rect x="227.30" y="1027.80" width="95.12" height="69.25" fill="#e2f0e2"/>
<rect x="322.12" y="1027.80" width="95.12" height="69.25" fill="#7ba5b9"/>
<rect x="416.95" y="1027.80" width="95.12" height="69.25" fill="#0b0506"/>
<rect x="511.78" y="1027.80" width="95.12" height="69.25" fill="#ecebdc"/>
<rect x="227.30" y="1096.75" width="95.12" height="69.25" fill="#2c4b60"/>
<rect x="322.12" y="1096.75" width="95.12" height="69.25" fill="#bfdad6"/>
<rect x="416.95" y="1096.75" width="95.12" height="69.25" fill="#ecebdc"/>
<rect x="511.78" y="1096.75" width="95.12" height="69.25" fill="#0b0506"/>
<line x1="322.12" y1="889.90" x2="322.12" y2="1165.70" stroke="#000" stroke-opacity="0.25" stroke-width="1"/>
<line x1="227.30" y1="958.85" x2="606.60" y2="958.85" stroke="#000" stroke-opacity="0.25" stroke-width="1"/>
<line x1="416.95" y1="889.90" x2="416.95" y2="1165.70" stroke="#000" stroke-opacity="0.25" stroke-width="1"/>
<line x1="227.30" y1="1027.80" x2="606.60" y2="1027.80" stroke="#000" stroke-opacity="0.25" stroke-width="1"/>
<line x1="511.78" y1="889.90" x2="511.78" y2="1165.70" stroke="#000" stroke-opacity="0.25" stroke-width="1"/>
<line x1="227.30" y1="1096.75" x2="606.60" y2="1096.75" stroke="#000" stroke-opacity="0.25" stroke-width="1"/>
<text x="369.54" y="931.38" font-size="21.3" text-anchor="middle" fill="#111">0.29</text>
<text x="464.36" y="931.38" font-size="21.3" text-anchor="middle" fill="#111">0.15</text>
<text x="559.19" y="931.38" font-size="21.3" text-anchor="middle" fill="#111">0.76</text>
<text x="274.71" y="1000.33" font-size="21.3" text-anchor="middle" fill="#111">0.29</text>
<text x="464.36" y="1000.33" font-size="21.3" text-anchor="middle" fill="#111">0.44</text>
<text x="559.19" y="1000.33" font-size="21.3" text-anchor="middle" fill="#111">0.28</text>
<text x="274.71" y="1069.28" font-size="21.3" text-anchor="middle" fill="#111">0.15</text>
<text x="369.54" y="1069.28" font-size="21.3" text-anchor="middle" fill="#111">0.44</text>
<text x="559.19" y="1069.28" font-size="21.3" text-anchor="middle" fill="#111">-0.02</text>
<text x="274.71" y="1138.22" font-size="21.3" text-anchor="middle" fill="#111">0.76</text>
<text x="369.54" y="1138.22" font-size="21.3" text-anchor="middle" fill="#111">0.28</text>
<text x="464.36" y="1138.22" font-size="21.3" text-anchor="middle" fill="#111">-0.02</text>
<rect x="226.1" y="887.6" width="2.6" height="280.50" fill="#000"/>
<rect x="226.1" y="1165.50" width="381.70" height="2.6" fill="#000"/>
<rect x="217.6" y="922.88" width="8.6" height="3" fill="#000"/>
<text x="215.5" y="931.58" font-size="18.3" font-weight="bold" text-anchor="end" textLength="86" lengthAdjust="spacingAndGlyphs">Suc_Veh</text>
<rect x="273.21" y="1167.90" width="3" height="8.8" fill="#000"/>
<text x="274.71" y="1194.9" font-size="18.3" font-weight="bold" text-anchor="middle" textLength="86" lengthAdjust="spacingAndGlyphs">Suc_Veh</text>
<rect x="217.6" y="991.83" width="8.6" height="3" fill="#000"/>
<text x="215.5" y="1000.53" font-size="18.3" font-weight="bold" text-anchor="end" textLength="86" lengthAdjust="spacingAndGlyphs">Suc_D3a</text>
<rect x="368.04" y="1167.90" width="3" height="8.8" fill="#000"/>
<text x="369.54" y="1194.9" font-size="18.3" font-weight="bold" text-anchor="middle" textLength="86" lengthAdjust="spacingAndGlyphs">Suc_D3a</text>
<rect x="217.6" y="1060.78" width="8.6" height="3" fill="#000"/>
<text x="215.5" y="1069.48" font-size="18.3" font-weight="bold" text-anchor="end" textLength="86" lengthAdjust="spacingAndGlyphs">Coc_Veh</text>
<rect x="462.86" y="1167.90" width="3" height="8.8" fill="#000"/>
<text x="464.36" y="1194.9" font-size="18.3" font-weight="bold" text-anchor="middle" textLength="86" lengthAdjust="spacingAndGlyphs">Coc_Veh</text>
<rect x="217.6" y="1129.72" width="8.6" height="3" fill="#000"/>
<text x="215.5" y="1138.42" font-size="18.3" font-weight="bold" text-anchor="end" textLength="86" lengthAdjust="spacingAndGlyphs">Coc_D3a</text>
<rect x="557.69" y="1167.90" width="3" height="8.8" fill="#000"/>
<text x="559.19" y="1194.9" font-size="18.3" font-weight="bold" text-anchor="middle" textLength="86" lengthAdjust="spacingAndGlyphs">Coc_D3a</text>
<text x="636" y="966.1" font-size="20" font-weight="bold" textLength="104" lengthAdjust="spacingAndGlyphs">Spearman</text>
<rect x="637.90" y="979.40" width="36.60" height="127.40" fill="url(#spear)"/>
<text transform="translate(711.80,984.60) scale(0.870,1)" font-size="16.00" font-weight="bold" text-anchor="end">1.0</text>
<rect x="637.90" y="1010.75" width="7" height="1" fill="#fff" fill-opacity="0.6"/>
<rect x="667.50" y="1010.75" width="7" height="1" fill="#fff" fill-opacity="0.6"/>
<text transform="translate(711.80,1016.45) scale(0.870,1)" font-size="16.00" font-weight="bold" text-anchor="end">0.5</text>
<rect x="637.90" y="1042.60" width="7" height="1" fill="#fff" fill-opacity="0.6"/>
<rect x="667.50" y="1042.60" width="7" height="1" fill="#fff" fill-opacity="0.6"/>
<text transform="translate(711.80,1048.30) scale(0.870,1)" font-size="16.00" font-weight="bold" text-anchor="end">0.0</text>
<rect x="637.90" y="1074.45" width="7" height="1" fill="#fff" fill-opacity="0.6"/>
<rect x="667.50" y="1074.45" width="7" height="1" fill="#fff" fill-opacity="0.6"/>
<text transform="translate(711.80,1080.15) scale(0.870,1)" font-size="16.00" font-weight="bold" text-anchor="end">-0.5</text>
<text transform="translate(711.80,1112.00) scale(0.870,1)" font-size="16.00" font-weight="bold" text-anchor="end">-1.0</text>
</svg>
</body></html>
